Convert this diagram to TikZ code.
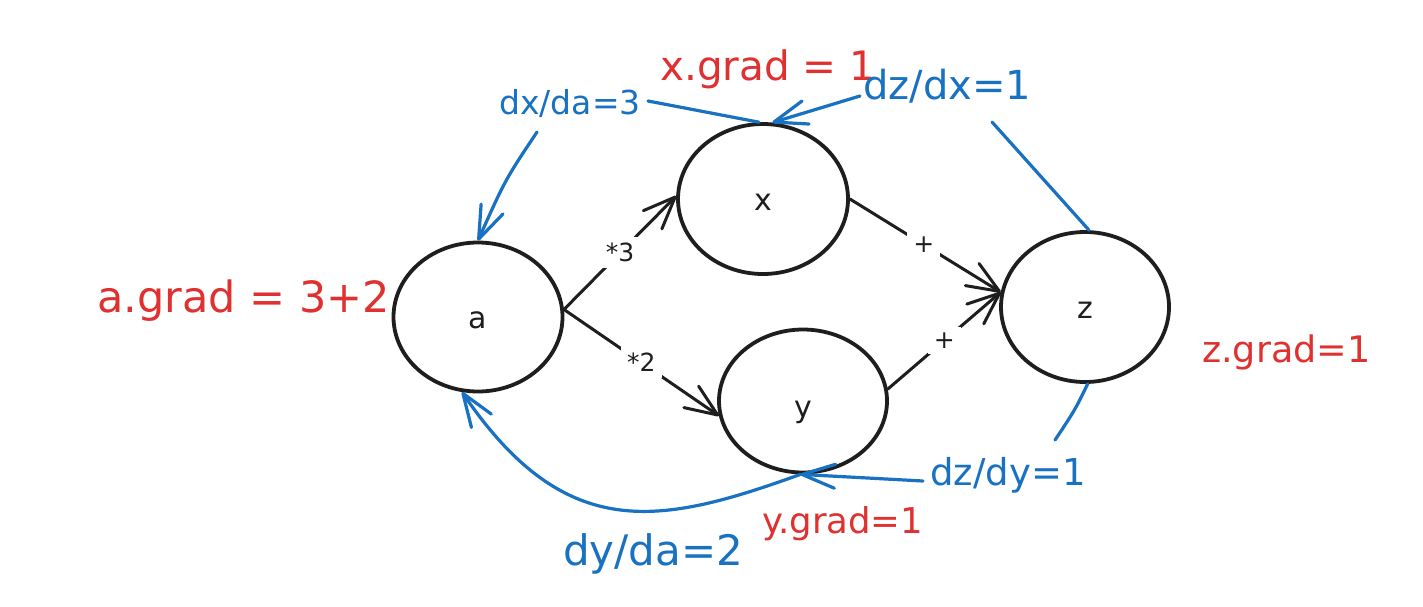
\documentclass[tikz,border=0pt]{standalone}
\usepackage{fontspec}
\setmainfont{DejaVu Sans}
\usetikzlibrary{arrows.meta,bending,shapes.geometric}
\definecolor{exred}{HTML}{E03131}
\definecolor{exblue}{HTML}{1971C2}
\definecolor{exblack}{HTML}{1E1E1E}
\tikzset{
  circ/.style={draw=exblack, line width=3.8pt, ellipse, inner sep=0pt, text=exblack,
    font=\fontsize{30pt}{36pt}\selectfont, text height=22pt, text depth=0pt},
  blk/.style={draw=exblack, line width=3pt, line cap=round,
    -{Straight Barb[length=32pt,width=26pt,round]}},
  blu/.style={draw=exblue, line width=3.2pt, line cap=round},
  bluarr/.style={blu, -{Straight Barb[length=33pt,width=24pt,round]}},
  oplab/.style={fill=white, inner sep=6pt, text=exblack, font=\fontsize{25pt}{30pt}\selectfont},
  redlab/.style={text=exred, inner sep=0pt, anchor=base west},
  blulab/.style={text=exblue, inner sep=0pt, anchor=base west},
}
\begin{document}
\begin{tikzpicture}[x=1pt,y=-1pt]
\fill[white] (0,0) rectangle (1423,606);
\useasboundingbox (0,0) rectangle (1423,606);

% circles
\node[circ, minimum width=169pt, minimum height=149pt] (a) at (478,317) {a};
\node[circ, minimum width=170pt, minimum height=150pt] (x) at (763,199) {x};
\node[circ, minimum width=168pt, minimum height=143pt, text height=33pt] (y) at (803,401) {y};
\node[circ, minimum width=168pt, minimum height=150pt] (z) at (1085,307) {z};

% forward edges
\draw[blk] (a.5) -- node[oplab] {*3} (x.178);
\draw[blk] (a.5) -- node[oplab] {*2} (y.190);
\draw[blk] (x.0) -- node[oplab, pos=0.49] {+} (z.170);
\draw[blk] (y.8) -- node[oplab] {+} (z.170);

% labels
\node[redlab, font=\fontsize{43pt}{50pt}\selectfont] (agrad) at (97,312) {a.grad = 3+2};
\node[redlab, font=\fontsize{40.5pt}{48pt}\selectfont] (xgrad) at (660,80) {x.grad = 1};
\node[redlab, font=\fontsize{36.5pt}{44pt}\selectfont] (zgrad) at (1202,362) {z.grad=1};
\node[redlab, font=\fontsize{35.5pt}{42pt}\selectfont] (ygrad) at (762,533) {y.grad=1};
\node[blulab, font=\fontsize{33pt}{40pt}\selectfont] (dxda) at (499,114) {dx/da=3};
\node[blulab, font=\fontsize{40pt}{48pt}\selectfont] (dzdx) at (863,99) {dz/dx=1};
\node[blulab, font=\fontsize{37pt}{44pt}\selectfont] (dzdy) at (930,485) {dz/dy=1};
\node[blulab, font=\fontsize{42pt}{50pt}\selectfont] (dyda) at (563,565) {dy/da=2};

% backward (gradient) paths
\coordinate (c1) at (992,122);
\coordinate (c2) at (860,96);
\coordinate (c3) at (648,101);
\coordinate (c4) at (537,132);
\coordinate (c5) at (1055,440);
\coordinate (c6) at (923,481);

\draw[blu] (z.87) -- (c1);
\draw[bluarr] (c2) -- (x.83);
\draw[blu] (x.93) -- (c3);
\draw[bluarr] (c4) .. controls (505,180) .. (a.north);
\draw[blu] (z.-88) .. controls (1075,410) .. (c5);
\draw[bluarr] (c6) -- (y.268);
\draw[bluarr] (y.268) .. controls (660,525) and (565,545) .. (a.258);
\end{tikzpicture}
\end{document}
